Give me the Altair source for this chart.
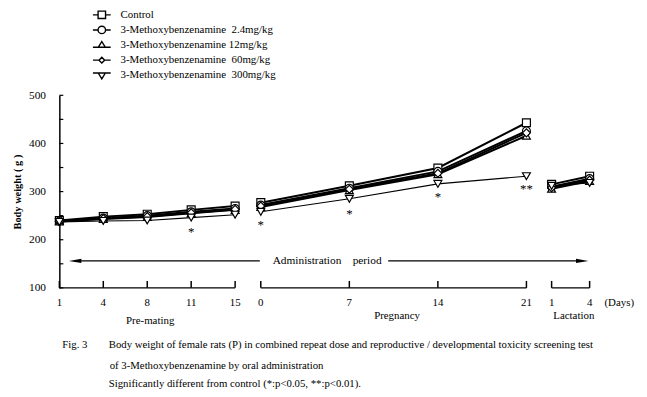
import altair as alt
import pandas as pd

FONT = "Liberation Serif"

# ---------------- data ----------------
series = [
    "Control",
    "3-Methoxybenzenamine\u00a0 2.4mg/kg",
    "3-Methoxybenzenamine 12mg/kg",
    "3-Methoxybenzenamine\u00a0 60mg/kg",
    "3-Methoxybenzenamine\u00a0 300mg/kg",
]
pre_days = [1, 4, 8, 11, 15]
preg_days = [0, 7, 14, 21]
lact_days = [1, 4]

pre_vals = [
    [240, 248, 253, 262, 270],
    [239, 245, 250, 258, 265],
    [238, 243, 247, 255, 262],
    [238, 244, 248, 256, 263],
    [237, 239, 240, 246, 252],
]
preg_vals = [
    [277, 312, 349, 443],
    [272, 307, 342, 426],
    [268, 303, 336, 416],
    [270, 305, 338, 422],
    [258, 285, 316, 332],
]
lact_vals = [
    [315, 332],
    [310, 327],
    [306, 322],
    [308, 324],
    [312, 318],
]

# significance marks (phase, day, label, y)
star_phase = ["pre", "preg", "preg", "preg", "preg"]
star_day = [11, 0, 7, 14, 21]
star_label = ["*", "*", "*", "*", "**"]
star_y = [223, 236, 260, 294, 311]

shapes = ["square", "circle", "triangle-up", "diamond", "triangle-down"]
marker_sizes = [64, 64, 64, 45, 64]
legend_paths = [
    "M-1,0H-0.42M0.42,0H1M-0.42,-0.42H0.42V0.42H-0.42Z",
    "M-1,0H-0.42M0.42,0H1M-0.42,0A0.42,0.42 0 1,0 0.42,0A0.42,0.42 0 1,0 -0.42,0Z",
    "M-1,0.25H1M0,-0.4L0.4,0.25H-0.4Z",
    "M-1,0H-0.32M0.32,0H1M0,-0.32L0.32,0L0,0.32L-0.32,0Z",
    "M-1,-0.25H1M-0.4,-0.25H0.4L0,0.4Z",
]


# ---------------- layout mapping (x position along a broken axis) ----------------
def xpos(phase, day):
    if phase == "pre":
        return pre_days.index(day) * 44.5
    if phase == "preg":
        return 204 + day * 269 / 21
    return 498.5 + (day - 1) * 38.5 / 3


rows = []
for si, s in enumerate(series):
    for d, v in zip(pre_days, pre_vals[si]):
        rows.append(dict(series=s, phase="pre", pos=xpos("pre", d), value=v))
    for d, v in zip(preg_days, preg_vals[si]):
        rows.append(dict(series=s, phase="preg", pos=xpos("preg", d), value=v))
    for d, v in zip(lact_days, lact_vals[si]):
        rows.append(dict(series=s, phase="lact", pos=xpos("lact", d), value=v))
df = pd.DataFrame(rows)

ticks = (
    [("pre", d) for d in pre_days]
    + [("preg", d) for d in preg_days]
    + [("lact", d) for d in lact_days]
)
df_ticks = pd.DataFrame(
    [dict(pos=xpos(p, d), label=str(d), y0=100, y1=100 + 14.4) for p, d in ticks]
)
df_axis = pd.DataFrame(
    [
        dict(x1=xpos("pre", 1), x2=xpos("pre", 15), y=100),
        dict(x1=xpos("preg", 0), x2=xpos("preg", 21), y=100),
        dict(x1=xpos("lact", 1), x2=xpos("lact", 4), y=100),
    ]
)
df_yticks = pd.DataFrame(dict(y=list(range(100, 501, 50)), x1=0, x2=4))
df_stars = pd.DataFrame(
    dict(
        pos=[xpos(p, d) for p, d in zip(star_phase, star_day)],
        value=star_y,
        label=star_label,
    )
)

ARROW_Y = 156
df_arrow = pd.DataFrame(dict(x1=[22, 333], x2=[203, 526], y=[ARROW_Y, ARROW_Y]))
df_arrow_text = pd.DataFrame(dict(pos=[216, 297], y=[ARROW_Y, ARROW_Y], t=["Administration", "period"]))

XS = alt.Scale(domain=[0, 580], nice=False, zero=False)
YS = alt.Scale(domain=[100, 500], nice=False, zero=False)
YAX = alt.Axis(
    values=[100, 200, 300, 400, 500],
    ticks=False,
    domain=True,
    domainColor="black",
    domainWidth=1.5,
    labelPadding=14,
    labelFont=FONT,
    labelFontSize=11.5,
    labelColor="black",
    title="Body weight ( g )",
    titleFont=FONT,
    titleFontSize=10.5,
    titleFontWeight="bold",
    titleColor="black",
    titlePadding=6,
    grid=False,
)


def X(field):
    return alt.X(field, type="quantitative", scale=XS, axis=None)


def Y(field):
    return alt.Y(field, type="quantitative", scale=YS, axis=YAX)


lines = alt.Chart(df).mark_line(color="black").encode(
    x=X("pos"),
    y=Y("value"),
    detail=["series:N", "phase:N"],
    strokeWidth=alt.condition(
        alt.datum.series == series[4], alt.value(1.1), alt.value(2)
    ),
)

points = alt.Chart(df).mark_point(
    filled=True, fill="white", stroke="black", strokeWidth=1.2, opacity=1
).encode(
    x=X("pos"),
    y=Y("value"),
    shape=alt.Shape("series:N", scale=alt.Scale(domain=series, range=shapes), legend=None),
    size=alt.Size("series:N", scale=alt.Scale(domain=series, range=marker_sizes), legend=None),
)

legend_layer = alt.Chart(pd.DataFrame(dict(series=series))).mark_point(
    clip=True, filled=False, color="black"
).encode(
    x=alt.value(-60),
    y=alt.value(-60),
    shape=alt.Shape(
        "series:N",
        scale=alt.Scale(domain=series, range=legend_paths),
        legend=alt.Legend(
            orient="none",
            legendX=33,
            legendY=-89,
            title=None,
            padding=0,
            symbolSize=324,
            symbolStrokeWidth=1.4,
            symbolStrokeColor="black",
            symbolFillColor="white",
            symbolOpacity=1,
            labelFont=FONT,
            labelFontSize=11,
            labelColor="black",
            labelOffset=9,
            labelLimit=400,
            clipHeight=15,
            rowPadding=0.3,
        ),
    ),
)

axis_segments = alt.Chart(df_axis).mark_rule(color="black", strokeWidth=1.5).encode(
    x=X("x1"), x2="x2", y=Y("y")
)
x_tick_marks = alt.Chart(df_ticks).mark_rule(color="black", strokeWidth=1.5).encode(
    x=X("pos"), y=Y("y0"), y2="y1"
)
y_tick_marks = alt.Chart(df_yticks).mark_rule(color="black", strokeWidth=1.2).encode(
    x=X("x1"), x2="x2", y=Y("y")
)
x_tick_labels = alt.Chart(df_ticks).mark_text(
    font=FONT, fontSize=11, color="black", baseline="middle"
).encode(x=X("pos"), y=alt.value(210), text="label:N")

stars = alt.Chart(df_stars).mark_text(
    font=FONT, fontSize=13, color="black", baseline="middle", dy=3
).encode(x=X("pos"), y=Y("value"), text="label:N")

arrow_lines = alt.Chart(df_arrow).mark_rule(color="black", strokeWidth=1.3).encode(
    x=X("x1"), x2="x2", y=Y("y")
)
arrow_heads = alt.Chart(
    pd.DataFrame(dict(pos=[16, 529.5], y=[ARROW_Y, ARROW_Y], d=["l", "r"]))
).mark_point(filled=True, color="black", opacity=1, size=160).encode(
    x=X("pos"),
    y=Y("y"),
    shape=alt.Shape(
        "d:N",
        scale=alt.Scale(domain=["l", "r"], range=["M-1,0L1,-0.35L1,0.35Z", "M1,0L-1,-0.35L-1,0.35Z"]),
        legend=None,
    ),
)
arrow_text = alt.Chart(df_arrow_text).mark_text(
    font=FONT, fontSize=11.5, color="black", align="left", baseline="middle"
).encode(x=X("pos"), y=Y("y"), text="t:N")

# annotation texts (pixel positions relative to plot origin)
ann = pd.DataFrame(
    dict(
        px=[92, 342, 521, 567],
        py=[229, 224, 224, 210],
        t=["Pre-mating", "Pregnancy", "Lactation", "(Days)"],
    )
)
ann_text = alt.Chart(ann).mark_text(
    font=FONT, fontSize=11, color="black", align="center", baseline="middle"
).encode(
    x=alt.X("px:Q", scale=None), y=alt.Y("py:Q", scale=None), text="t:N"
)

cap = pd.DataFrame(
    dict(
        px=[3, 50, 51, 50],
        py=[253, 253, 274, 292],
        t=[
            "Fig. 3",
            "Body weight of female rats (P) in combined repeat dose and reproductive / developmental toxicity screening test",
            "of 3-Methoxybenzenamine by oral administration",
            "Significantly different from control (*:p<0.05, **:p<0.01).",
        ],
    )
)
cap_text = alt.Chart(cap).mark_text(
    font=FONT, fontSize=10.9, color="black", align="left", baseline="middle"
).encode(
    x=alt.X("px:Q", scale=None), y=alt.Y("py:Q", scale=None), text="t:N"
)

chart = (
    alt.layer(
        axis_segments,
        x_tick_marks,
        y_tick_marks,
        x_tick_labels,
        arrow_lines,
        arrow_heads,
        arrow_text,
        lines,
        points,
        stars,
        legend_layer,
        ann_text,
        cap_text,
    )
    .resolve_scale(shape="independent", size="independent")
    .properties(
        width=580,
        height=195,
        autosize=alt.AutoSizeParams(type="none"),
        padding={"left": 52, "top": 86, "right": 7, "bottom": 100},
        background="white",
    )
    .configure_view(stroke=None)
)

chart.save("out.html", embed_options={"renderer": "svg", "actions": False})
